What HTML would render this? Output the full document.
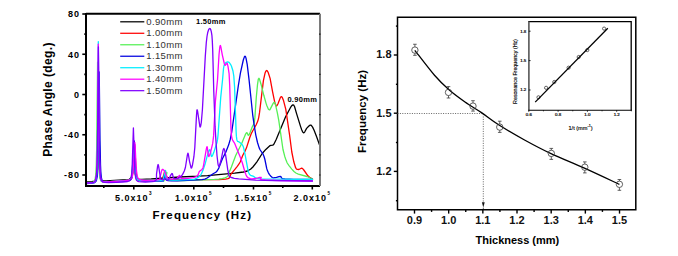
<!DOCTYPE html>
<html><head><meta charset="utf-8">
<style>
html,body{margin:0;padding:0;background:#fff;width:678px;height:256px;overflow:hidden}
svg{display:block}
text{font-family:"Liberation Sans",sans-serif}
</style></head><body>
<svg width="678" height="256" viewBox="0 0 678 256">
<rect width="678" height="256" fill="#fff"/>
<!-- LEFT CHART -->
<g fill="none" stroke-width="1.3" stroke-linejoin="round" stroke-linecap="round">
<path d="M86.5,182.0L92.0,181.7L94.3,181.0L95.0,180.5L95.6,179.4L96.3,176.4L96.8,170.7L97.2,159.0L98.2,91.6L99.0,149.7L99.5,168.6L99.9,174.6L100.4,178.0L101.3,180.0L101.9,180.5L102.6,180.8L106.1,180.9L126.9,179.6L129.1,179.3L130.4,178.6L131.0,177.7L131.4,176.7L132.1,172.9L133.6,149.7L133.9,152.5L134.7,168.3L135.3,174.4L135.8,176.6L136.4,178.0L137.2,178.7L138.4,179.2L142.0,179.3L151.2,179.0L180.0,177.0L198.5,176.2L207.6,175.6L234.7,173.2L243.5,172.0L247.4,171.0L250.5,169.3L252.9,167.0L256.9,161.8L262.2,153.5L265.8,149.4L270.1,145.6L270.9,145.3L272.8,145.2L274.0,144.0L276.3,139.3L285.6,116.8L290.4,107.7L291.8,105.6L292.9,104.9L293.4,104.9L293.8,105.3L294.6,106.8L296.5,113.4L300.6,126.6L301.8,130.0L302.8,132.1L303.5,132.8L304.1,132.7L304.8,131.8L306.6,128.4L308.9,126.0L310.2,125.1L310.9,125.1L311.3,125.3L312.6,127.1L314.2,130.5L316.9,137.5L320.0,146.4" stroke="#000000"/>
<path d="M86.5,183.0L92.0,182.6L93.4,182.3L94.4,181.9L95.1,181.2L95.6,180.1L96.4,176.2L97.0,167.0L97.3,153.5L98.3,71.6L99.1,143.3L99.6,166.5L100.0,173.9L100.5,178.0L101.2,180.3L101.7,181.1L102.3,181.5L103.9,181.9L106.6,181.9L125.8,180.6L129.4,180.1L130.4,179.6L131.2,179.0L131.8,178.0L132.3,176.5L133.0,172.0L133.5,165.2L134.3,147.3L134.6,144.4L134.9,147.3L135.8,166.8L136.4,173.7L136.8,176.0L137.4,177.9L138.2,179.1L139.3,179.7L141.1,180.1L145.0,180.3L152.2,180.3L159.1,180.1L162.7,179.5L163.2,179.0L162.9,177.3L163.5,175.8L164.5,171.7L165.0,171.0L165.5,171.7L166.5,175.8L167.1,177.3L166.8,178.8L167.7,179.2L169.0,179.4L178.4,179.7L219.2,179.5L225.7,179.1L228.0,178.7L229.2,178.1L229.9,177.4L230.4,175.2L231.0,174.2L237.3,166.3L239.2,163.7L240.3,161.7L242.8,155.3L245.3,150.6L246.4,148.1L249.7,137.7L251.2,133.8L252.5,131.2L256.2,124.7L257.8,121.1L258.7,117.6L259.5,112.9L263.4,80.6L265.1,72.9L265.8,71.2L266.6,70.5L267.3,70.9L268.2,72.5L270.1,78.4L272.6,91.9L274.3,100.2L275.0,103.3L275.8,105.3L276.2,105.9L276.5,106.0L277.1,105.4L278.0,103.7L280.1,98.2L281.1,96.6L281.6,96.6L282.3,97.4L283.6,100.8L285.8,109.4L289.6,135.1L291.8,152.0L293.8,161.8L295.6,167.7L296.4,169.0L297.2,169.4L298.9,169.5L301.3,168.2L302.4,168.4L303.8,170.0L307.9,175.8L309.6,177.2L312.5,179.0" stroke="#ff0000"/>
<path d="M86.5,183.0L91.7,182.6L93.0,182.2L93.9,181.7L94.6,180.7L95.1,179.3L95.8,174.6L96.3,165.3L96.7,147.3L97.6,62.1L98.4,140.0L98.9,165.2L99.3,173.2L99.8,177.7L100.6,180.3L101.1,181.1L101.7,181.5L103.2,181.9L105.9,182.0L125.2,180.6L129.0,180.2L130.0,179.9L130.8,179.4L131.3,178.7L131.8,177.5L132.5,173.7L134.0,150.4L134.3,153.2L135.1,169.1L135.7,175.1L136.1,177.2L136.7,178.6L137.4,179.4L138.5,179.9L140.5,180.2L145.2,180.4L161.0,180.5L162.9,180.7L163.7,181.1L164.7,179.1L166.3,173.3L166.8,172.5L166.9,172.8L166.1,176.3L166.2,177.6L166.6,178.5L167.3,179.3L168.5,179.9L172.2,180.4L177.4,180.6L184.3,180.6L214.4,179.4L218.8,179.1L222.2,178.6L224.9,177.9L226.7,177.0L227.7,176.2L228.4,175.1L229.5,171.6L231.4,167.1L235.7,155.5L241.8,143.2L245.6,134.1L246.4,132.9L246.9,132.7L247.2,133.0L248.1,135.1L248.5,135.3L248.9,135.0L250.1,132.6L252.4,126.5L253.9,123.7L254.5,121.0L254.9,117.4L256.3,97.2L257.5,84.6L258.2,79.8L258.5,78.8L258.9,78.3L259.2,78.5L259.6,79.5L261.2,84.8L263.8,95.3L266.0,103.1L266.9,105.8L268.4,109.2L269.2,109.8L269.8,109.8L270.1,109.4L273.0,103.6L273.9,102.4L274.2,102.3L274.7,102.6L275.4,104.1L277.3,112.6L278.8,120.7L283.0,149.5L284.7,156.2L286.2,160.6L287.2,163.0L289.0,165.6L291.8,169.1L294.0,171.5L295.9,173.0L298.3,174.1L307.0,176.5L312.5,179.0" stroke="#55f055"/>
<path d="M86.5,183.5L92.5,183.1L94.0,182.8L95.0,182.4L95.8,181.6L96.4,180.5L97.2,176.5L97.8,167.6L98.2,152.9L99.2,72.0L100.0,140.1L100.5,164.8L100.8,171.5L101.3,177.1L101.9,179.9L102.7,181.4L103.8,182.1L105.3,182.3L112.1,182.1L127.7,180.9L129.8,180.4L131.0,179.4L131.5,178.5L132.0,177.0L132.7,171.9L133.2,163.7L133.9,143.9L134.2,140.9L134.5,144.7L135.3,165.8L135.8,172.9L136.2,175.9L136.7,178.0L137.3,179.2L138.2,180.0L139.7,180.5L142.1,180.8L161.2,181.0L163.2,181.2L162.9,181.1L162.9,180.8L163.5,179.0L164.7,173.8L165.2,173.0L165.3,173.4L164.8,176.5L165.0,178.5L166.0,179.8L166.6,180.2L167.9,180.6L171.7,180.9L177.2,180.9L202.0,179.7L204.8,179.1L207.1,178.0L213.1,173.8L215.8,172.3L217.1,171.0L218.8,168.1L222.4,158.8L225.9,151.9L228.6,145.1L230.3,139.2L231.7,132.2L238.3,85.9L240.4,73.1L243.3,60.0L244.3,57.1L244.7,56.4L245.0,56.2L245.5,56.6L246.0,58.1L247.2,64.4L249.1,80.1L252.7,114.8L254.4,126.7L255.8,135.1L257.5,142.5L259.2,147.9L260.2,150.0L263.1,154.2L264.1,156.7L264.9,159.5L266.7,168.4L267.4,170.6L268.3,172.6L269.5,174.6L270.9,176.2L272.3,177.5L273.3,177.9L276.5,177.4L279.0,176.6L280.2,176.5L281.0,176.7L281.4,177.8L282.0,178.3L283.1,178.7L285.0,179.0L293.6,179.3L312.5,179.5" stroke="#0000e0"/>
<path d="M86.5,183.0L92.4,182.6L93.8,182.3L94.7,181.8L95.4,180.9L95.9,179.6L96.6,174.9L97.1,164.6L97.5,142.4L98.3,41.6L99.0,132.7L99.4,160.7L99.7,169.9L100.2,176.7L100.9,180.0L101.4,180.9L102.0,181.5L103.4,181.9L106.0,182.0L125.2,180.6L128.9,180.1L129.9,179.7L130.6,179.1L131.2,178.1L131.6,177.0L132.3,172.4L133.8,145.4L134.1,148.7L134.9,167.2L135.4,173.4L135.8,176.0L136.3,177.8L137.0,179.0L137.9,179.7L139.3,180.1L141.5,180.3L161.2,180.5L162.7,180.6L163.2,180.9L162.9,180.8L162.9,180.4L163.5,178.3L164.9,171.8L165.2,170.9L165.5,170.5L165.7,171.0L165.6,175.3L166.0,177.5L166.7,178.6L167.4,179.2L169.5,179.9L172.8,180.2L177.0,180.2L193.5,179.3L194.7,179.1L197.3,177.9L199.6,176.4L200.5,175.3L201.4,173.7L203.3,169.4L205.0,164.3L207.3,155.6L209.1,150.3L209.7,149.6L210.1,149.9L211.2,155.7L211.5,156.4L211.7,156.5L211.9,156.4L212.7,155.1L213.7,152.6L216.9,142.8L217.5,139.7L218.0,135.4L220.7,97.6L222.6,79.2L223.5,68.5L224.0,65.8L224.9,63.7L226.2,62.3L227.6,61.9L228.6,62.1L229.6,63.0L230.5,64.3L231.4,66.0L232.9,70.7L233.8,76.0L234.6,87.3L236.1,131.3L236.4,136.4L236.8,139.4L237.2,140.7L237.6,141.4L239.1,141.9L241.7,144.1L242.6,145.2L243.3,146.7L244.0,149.3L245.3,155.7L247.9,169.8L248.6,172.5L249.6,174.4L250.6,175.3L253.7,176.4L255.0,177.6L255.6,178.0L257.5,178.4L260.5,178.8L275.4,179.2L312.5,179.5" stroke="#00eeff"/>
<path d="M86.5,183.0L92.2,182.6L93.5,182.3L94.5,181.8L95.3,180.8L95.8,179.4L96.5,174.8L97.0,165.4L97.5,146.3L98.3,44.1L99.0,128.4L99.5,161.9L99.8,170.1L100.4,176.6L101.0,179.8L101.5,180.8L102.2,181.4L103.8,181.9L106.5,182.0L125.2,180.6L129.3,180.0L130.4,179.5L131.2,178.8L131.8,177.8L132.3,176.3L133.1,171.3L133.7,162.7L134.5,145.0L134.8,142.4L135.1,145.0L136.1,166.0L136.7,172.7L137.1,175.4L137.6,177.2L138.3,178.6L139.3,179.4L141.2,180.0L145.2,180.3L155.1,180.2L157.8,179.9L159.5,179.5L160.0,179.1L159.9,177.3L160.5,175.4L161.7,170.6L162.2,169.6L162.6,169.3L163.0,169.4L163.6,169.9L165.1,172.2L166.4,176.2L167.2,177.7L168.2,178.6L169.8,179.1L173.1,179.2L176.3,178.7L177.3,178.0L179.0,175.8L179.6,175.4L180.0,175.7L180.3,177.3L180.8,178.1L181.5,178.4L182.9,178.5L187.8,178.3L193.0,177.6L195.8,176.9L197.4,175.8L198.1,174.7L199.2,171.8L199.9,171.0L202.0,169.4L202.7,168.4L203.1,167.4L203.7,164.6L206.2,149.6L206.8,147.0L207.1,146.7L207.3,147.4L208.3,155.1L208.6,156.2L208.9,156.5L209.6,155.2L210.6,152.2L212.7,143.4L213.6,135.9L215.4,101.4L217.5,80.0L219.0,54.9L219.7,47.8L220.0,46.1L220.3,45.5L220.6,45.9L220.9,47.2L222.3,54.8L224.4,64.0L224.8,65.0L225.2,65.3L226.8,63.3L227.0,63.2L227.3,63.6L228.0,66.4L229.1,73.7L229.7,85.4L231.0,129.5L231.4,134.6L231.8,137.8L232.7,140.4L234.7,143.4L240.7,158.3L242.3,162.8L245.0,172.2L246.1,175.1L246.8,176.5L247.8,177.6L248.9,178.2L250.3,178.7L252.1,178.9L256.0,178.5L259.6,177.4L261.0,177.3L261.2,177.5L260.3,178.6L260.6,179.1L261.9,179.6L265.1,180.0L279.6,180.5L312.5,181.0" stroke="#ff00ff"/>
<path d="M86.5,183.0L92.2,182.6L93.6,182.3L94.5,181.8L95.2,181.0L95.8,179.4L96.5,174.9L97.1,163.3L97.5,143.0L98.4,46.8L99.2,134.7L99.6,159.6L100.3,174.8L100.8,178.5L101.6,180.8L102.8,181.9L104.7,182.4L108.4,182.5L116.2,182.3L122.5,182.0L127.6,181.5L129.4,180.9L130.4,179.9L131.0,178.4L131.4,176.4L132.1,168.9L133.4,127.9L134.8,170.3L135.6,177.7L136.1,179.4L136.8,180.6L137.7,181.3L139.0,181.7L145.3,182.0L152.1,181.7L154.2,181.3L155.5,180.7L156.2,179.9L156.5,179.0L156.5,174.3L157.6,166.1L158.1,164.5L158.4,165.1L158.7,166.6L160.3,177.2L160.8,178.6L161.7,179.5L162.6,179.9L163.2,180.0L164.5,178.7L165.0,178.5L165.6,178.8L167.0,180.0L167.5,180.2L168.0,180.0L168.9,178.8L171.2,174.4L172.0,173.5L172.3,173.6L172.5,174.0L173.2,177.2L173.7,178.2L174.8,178.7L176.8,178.7L179.0,178.1L180.8,176.8L182.6,174.4L184.3,171.0L185.4,167.5L187.4,154.9L187.9,153.2L188.1,153.4L188.4,154.5L189.5,161.3L191.0,167.6L191.3,168.1L191.7,167.8L192.4,165.3L193.9,156.7L194.8,147.6L196.5,115.4L196.9,110.2L197.1,109.8L197.2,109.9L197.6,111.3L199.9,126.7L200.2,127.0L200.6,126.3L201.3,122.5L202.4,109.8L205.3,56.1L206.3,42.5L207.0,36.5L207.8,32.2L208.7,29.5L209.2,28.8L209.8,28.5L210.2,28.7L210.6,29.3L211.3,31.6L211.9,35.3L212.3,40.7L212.7,49.7L213.8,92.0L215.1,126.9L216.0,141.9L217.0,155.5L217.9,163.3L218.2,165.1L218.7,166.2L218.9,166.3L219.2,166.1L219.8,164.5L221.3,158.9L223.1,150.1L223.5,148.9L223.9,148.5L224.5,149.7L225.6,154.8L227.7,169.4L229.0,175.8L229.5,176.7L231.4,177.5L234.3,178.3L238.7,178.9L255.5,180.1L274.7,180.6L312.5,181.0" stroke="#8000ff"/>

</g>
<g stroke="#000" stroke-width="1.6"><line x1="82.3" y1="14.00" x2="86" y2="14.00"/><line x1="82.3" y1="54.25" x2="86" y2="54.25"/><line x1="82.3" y1="94.50" x2="86" y2="94.50"/><line x1="82.3" y1="134.75" x2="86" y2="134.75"/><line x1="82.3" y1="175.00" x2="86" y2="175.00"/><line x1="84.3" y1="34.12" x2="86" y2="34.12"/><line x1="84.3" y1="74.38" x2="86" y2="74.38"/><line x1="84.3" y1="114.62" x2="86" y2="114.62"/><line x1="84.3" y1="154.88" x2="86" y2="154.88"/><line x1="133.80" y1="186" x2="133.80" y2="189.5"/><line x1="193.80" y1="186" x2="193.80" y2="189.5"/><line x1="253.50" y1="186" x2="253.50" y2="189.5"/><line x1="312.30" y1="186" x2="312.30" y2="189.5"/><line x1="103.80" y1="186" x2="103.80" y2="188"/><line x1="163.80" y1="186" x2="163.80" y2="188"/><line x1="223.50" y1="186" x2="223.50" y2="188"/><line x1="282.80" y1="186" x2="282.80" y2="188"/></g>
<path d="M86,13.8 H320" stroke="#000" stroke-width="2" fill="none"/>
<path d="M86,13 V186.1 H320" stroke="#000" stroke-width="2" fill="none"/>
<path d="M320,13.8 V186.1" stroke="#7a7a7a" stroke-width="2" fill="none"/><g stroke="#222" stroke-width="1.2"><line x1="319" y1="34.12" x2="320.6" y2="34.12"/><line x1="319" y1="54.25" x2="320.6" y2="54.25"/><line x1="319" y1="74.38" x2="320.6" y2="74.38"/><line x1="319" y1="94.50" x2="320.6" y2="94.50"/><line x1="319" y1="114.62" x2="320.6" y2="114.62"/><line x1="319" y1="134.75" x2="320.6" y2="134.75"/><line x1="319" y1="154.88" x2="320.6" y2="154.88"/><line x1="319" y1="175.00" x2="320.6" y2="175.00"/></g>
<g font-size="9" font-weight="bold" fill="#000" letter-spacing="1"><text x="80" y="17.30" text-anchor="end">80</text><text x="80" y="57.55" text-anchor="end">40</text><text x="80" y="97.80" text-anchor="end">0</text><text x="80" y="138.05" text-anchor="end">-40</text><text x="80" y="178.30" text-anchor="end">-80</text></g>
<g font-size="9" font-weight="bold" fill="#000" letter-spacing="1"><text x="133.80" y="201.2" text-anchor="middle">5.0x10<tspan dx="0.6" dy="-6" font-size="4.6">3</tspan></text><text x="193.80" y="201.2" text-anchor="middle">1.0x10<tspan dx="0.6" dy="-6" font-size="4.6">5</tspan></text><text x="253.50" y="201.2" text-anchor="middle">1.5x10<tspan dx="0.6" dy="-6" font-size="4.6">5</tspan></text><text x="312.30" y="201.2" text-anchor="middle">2.0x10<tspan dx="0.6" dy="-6" font-size="4.6">5</tspan></text></g>
<text x="152.4" y="218.8" font-size="11.5" font-weight="bold" letter-spacing="1.2">Frequency (Hz)</text>
<text transform="translate(52,156.8) rotate(-90)" font-size="12" font-weight="bold" letter-spacing="0.4">Phase Angle (deg.)</text>
<g stroke-width="1.25" font-size="9.5" fill="#333" letter-spacing="0.35"><line x1="120.2" y1="21.80" x2="144.3" y2="21.80" stroke="#000000"/><text x="146.3" y="25.00">0.90mm</text><line x1="120.2" y1="33.28" x2="144.3" y2="33.28" stroke="#ff0000"/><text x="146.3" y="36.48">1.00mm</text><line x1="120.2" y1="44.76" x2="144.3" y2="44.76" stroke="#55f055"/><text x="146.3" y="47.96">1.10mm</text><line x1="120.2" y1="56.24" x2="144.3" y2="56.24" stroke="#0000e0"/><text x="146.3" y="59.44">1.15mm</text><line x1="120.2" y1="67.72" x2="144.3" y2="67.72" stroke="#00eeff"/><text x="146.3" y="70.92">1.30mm</text><line x1="120.2" y1="79.20" x2="144.3" y2="79.20" stroke="#ff00ff"/><text x="146.3" y="82.40">1.40mm</text><line x1="120.2" y1="90.68" x2="144.3" y2="90.68" stroke="#8000ff"/><text x="146.3" y="93.88">1.50mm</text></g>
<text x="196" y="24" font-size="7.5" font-weight="bold" letter-spacing="0.3">1.50mm</text>
<text x="287.4" y="101.5" font-size="7.5" font-weight="bold" letter-spacing="0.3">0.90mm</text>
<!-- RIGHT CHART -->
<path d="M397.5,17.3 H635.8 V209.8 H397.5 Z" stroke="#000" stroke-width="1.5" fill="none"/>
<g stroke="#000" stroke-width="1.4"><line x1="414.50" y1="209.8" x2="414.50" y2="213.6"/><line x1="448.67" y1="209.8" x2="448.67" y2="213.6"/><line x1="482.84" y1="209.8" x2="482.84" y2="213.6"/><line x1="517.01" y1="209.8" x2="517.01" y2="213.6"/><line x1="551.18" y1="209.8" x2="551.18" y2="213.6"/><line x1="585.35" y1="209.8" x2="585.35" y2="213.6"/><line x1="619.52" y1="209.8" x2="619.52" y2="213.6"/><line x1="431.58" y1="209.8" x2="431.58" y2="211.9"/><line x1="465.75" y1="209.8" x2="465.75" y2="211.9"/><line x1="499.92" y1="209.8" x2="499.92" y2="211.9"/><line x1="534.10" y1="209.8" x2="534.10" y2="211.9"/><line x1="568.26" y1="209.8" x2="568.26" y2="211.9"/><line x1="602.43" y1="209.8" x2="602.43" y2="211.9"/><line x1="393.8" y1="171.40" x2="397.5" y2="171.40"/><line x1="393.8" y1="113.20" x2="397.5" y2="113.20"/><line x1="393.8" y1="55.00" x2="397.5" y2="55.00"/><line x1="395.9" y1="200.70" x2="397.5" y2="200.70"/><line x1="395.9" y1="142.50" x2="397.5" y2="142.50"/><line x1="395.9" y1="84.30" x2="397.5" y2="84.30"/><line x1="395.9" y1="26.10" x2="397.5" y2="26.10"/></g>
<g font-size="11" font-weight="bold" fill="#111"><text x="414.50" y="224.2" text-anchor="middle">0.9</text><text x="448.67" y="224.2" text-anchor="middle">1.0</text><text x="482.84" y="224.2" text-anchor="middle">1.1</text><text x="517.01" y="224.2" text-anchor="middle">1.2</text><text x="551.18" y="224.2" text-anchor="middle">1.3</text><text x="585.35" y="224.2" text-anchor="middle">1.4</text><text x="619.52" y="224.2" text-anchor="middle">1.5</text><text x="391.5" y="174.80" text-anchor="end">1.2</text><text x="391.5" y="116.60" text-anchor="end">1.5</text><text x="391.5" y="58.40" text-anchor="end">1.8</text></g>
<text x="517.4" y="244.3" font-size="11" font-weight="bold" text-anchor="middle">Thickness (mm)</text>
<text transform="translate(366,111.5) rotate(-90)" font-size="11.5" font-weight="bold" text-anchor="middle">Frequency (Hz)</text>
<path d="M397.5,113.5 H483.3 V204" stroke="#555" stroke-width="0.9" stroke-dasharray="1,1.4" fill="none"/>
<path d="M481.9,202.3 L484.7,202.3 L483.3,207.6 Z" fill="#111"/><path d="M483.3,207.6 V209" stroke="#555" stroke-width="0.9"/>
<path d="M414.80,50.30 C418.08,54.47 428.80,68.72 434.50,75.30 C440.20,81.88 443.92,85.35 449.00,89.80 C454.08,94.25 459.58,98.20 465.00,102.00 C470.42,105.80 475.83,108.77 481.50,112.60 C487.17,116.43 491.75,120.40 499.00,125.00 C506.25,129.60 516.33,135.43 525.00,140.20 C533.67,144.97 541.00,148.90 551.00,153.60 C561.00,158.30 573.60,163.27 585.00,168.40 C596.40,173.53 613.67,181.73 619.40,184.40" stroke="#000" stroke-width="1.3" fill="none"/>
<g stroke="#3a3a3a" stroke-width="0.8" fill="none"><circle cx="414.90" cy="50.10" r="3.2"/><path d="M414.90,44.25 V46.90 M414.90,53.30 V55.30 M413.10,44.25 H416.70 M413.10,55.30 H416.70"/><circle cx="448.50" cy="92.40" r="3.2"/><path d="M448.50,86.60 V89.20 M448.50,95.60 V98.00 M446.70,86.60 H450.30 M446.70,98.00 H450.30"/><circle cx="473.00" cy="106.10" r="3.2"/><path d="M473.00,100.70 V102.90 M473.00,109.30 V111.10 M471.20,100.70 H474.80 M471.20,111.10 H474.80"/><circle cx="499.75" cy="127.10" r="3.2"/><path d="M499.75,121.20 V123.90 M499.75,130.30 V132.40 M497.95,121.20 H501.55 M497.95,132.40 H501.55"/><circle cx="551.30" cy="153.40" r="3.2"/><path d="M551.30,148.40 V150.20 M551.30,156.60 V159.40 M549.50,148.40 H553.10 M549.50,159.40 H553.10"/><circle cx="584.80" cy="167.20" r="3.2"/><path d="M584.80,161.90 V164.00 M584.80,170.40 V172.90 M583.00,161.90 H586.60 M583.00,172.90 H586.60"/><circle cx="619.40" cy="184.30" r="3.2"/><path d="M619.40,179.50 V181.10 M619.40,187.50 V190.30 M617.60,179.50 H621.20 M617.60,190.30 H621.20"/></g>
<!-- inset -->
<path d="M528.8,110.2 V21.6 H631.2 V110.2" stroke="#000" stroke-width="1.3" fill="none"/><path d="M528.9,21.6 V110.2" stroke="#888" stroke-width="1.1" fill="none"/><path d="M528.3,110.2 H631.8" stroke="#000" stroke-width="1.1" fill="none"/>
<g stroke="#000" stroke-width="0.8"><line x1="528.80" y1="110.2" x2="528.80" y2="111.8"/><line x1="558.10" y1="110.2" x2="558.10" y2="111.8"/><line x1="587.40" y1="110.2" x2="587.40" y2="111.8"/><line x1="616.70" y1="110.2" x2="616.70" y2="111.8"/><line x1="543.45" y1="110.2" x2="543.45" y2="111.3"/><line x1="572.75" y1="110.2" x2="572.75" y2="111.3"/><line x1="602.05" y1="110.2" x2="602.05" y2="111.3"/><line x1="631.35" y1="110.2" x2="631.35" y2="111.3"/><line x1="528.8" y1="90.00" x2="530.6" y2="90.00"/><line x1="528.8" y1="60.60" x2="530.6" y2="60.60"/><line x1="528.8" y1="31.20" x2="530.6" y2="31.20"/></g>
<g font-size="4.4" fill="#000" stroke="#000" stroke-width="0.2"><text x="528.80" y="116.3" text-anchor="middle">0.6</text><text x="558.10" y="116.3" text-anchor="middle">0.8</text><text x="587.40" y="116.3" text-anchor="middle">1.0</text><text x="616.70" y="116.3" text-anchor="middle">1.2</text><text x="526.3" y="91.40" text-anchor="end">1.2</text><text x="526.3" y="62.00" text-anchor="end">1.5</text><text x="526.3" y="32.60" text-anchor="end">1.8</text></g>
<text transform="translate(516.6,71.5) rotate(-90)" font-size="5.3" text-anchor="middle" fill="#000" stroke="#000" stroke-width="0.15">Resonance Frequency (Hz)</text>
<text x="580.6" y="129.6" font-size="5.6" text-anchor="middle" fill="#000" stroke="#000" stroke-width="0.15">1/t (mm<tspan dy="-3" font-size="3.8">-1</tspan><tspan dy="3">)</tspan></text>
<g stroke="#222" stroke-width="0.7" fill="none"><circle cx="538.50" cy="97.30" r="1.6"/><circle cx="546.10" cy="87.80" r="1.6"/><circle cx="554.30" cy="82.00" r="1.6"/><circle cx="568.60" cy="67.70" r="1.6"/><circle cx="578.70" cy="57.00" r="1.6"/><circle cx="587.30" cy="50.10" r="1.6"/><circle cx="604.10" cy="28.60" r="1.6"/></g>
<path d="M535.2,102.1 L607.8,28.2" stroke="#000" stroke-width="1.3" fill="none"/>
</svg>
</body></html>
